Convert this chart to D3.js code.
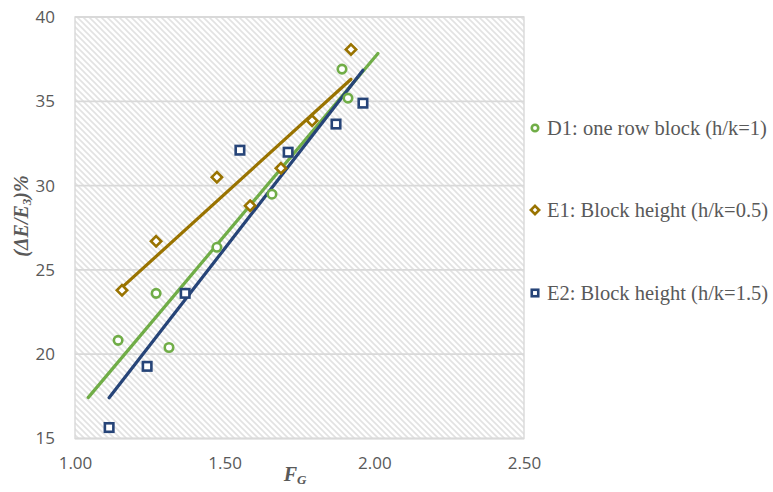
<!DOCTYPE html>
<html>
<head>
<meta charset="utf-8">
<script src="https://cdn.jsdelivr.net/npm/d3@7"></script>
<style>
  html, body { margin: 0; padding: 0; background: #fff; }
  svg { display: block; }
</style>
</head>
<body>
<svg id="chart" width="773" height="492"></svg>
<script>
// F_G versus relative energy change (ΔE/E3)% for three block configurations
const seriesNames = [
  "D1: one row block (h/k=1)",
  "E1: Block height (h/k=0.5)",
  "E2: Block height (h/k=1.5)"
];
const d1X = [1.144, 1.271, 1.314, 1.474, 1.658, 1.892, 1.912];
const d1Y = [20.82, 23.61, 20.40, 26.34, 29.49, 36.91, 35.19];
const e1X = [1.157, 1.271, 1.474, 1.585, 1.688, 1.792, 1.922];
const e1Y = [23.79, 26.70, 30.50, 28.81, 31.03, 33.85, 38.07];
const e2X = [1.114, 1.241, 1.368, 1.551, 1.712, 1.872, 1.962];
const e2Y = [15.65, 19.28, 23.61, 32.10, 31.98, 33.65, 34.89];
// Linear trendline forecast (forward / backward, in F_G units)
const trendForecast = [0.1, 0, 0];

const xTicks = [1.0, 1.5, 2.0, 2.5];
const yTicks = [15, 20, 25, 30, 35, 40];

const colors = ["#70AD47", "#997300", "#264478"];
const shapes = ["circle", "diamond", "square"];

const series = [
  { name: seriesNames[0], xs: d1X, ys: d1Y },
  { name: seriesNames[1], xs: e1X, ys: e1Y },
  { name: seriesNames[2], xs: e2X, ys: e2Y }
];

const plot = { left: 75, right: 524, top: 17, bottom: 438.5 };
const svg = d3.select("#chart");

const x = d3.scaleLinear().domain([1.0, 2.5]).range([plot.left, plot.right]);
const y = d3.scaleLinear().domain([15, 40]).range([plot.bottom, plot.top]);

// hatched plot background
const defs = svg.append("defs");
const pat = defs.append("pattern")
  .attr("id", "hatch")
  .attr("patternUnits", "userSpaceOnUse")
  .attr("width", 6).attr("height", 6);
pat.append("rect").attr("width", 6).attr("height", 6).attr("fill", "#ffffff");
pat.append("path")
  .attr("d", "M-1,-1 L7,7 M-1,5 L1,7 M5,-1 L7,1")
  .attr("stroke", "#e2e2e2").attr("stroke-width", 1.6);

svg.append("rect")
  .attr("x", plot.left).attr("y", plot.top)
  .attr("width", plot.right - plot.left).attr("height", plot.bottom - plot.top)
  .attr("fill", "url(#hatch)");

// horizontal gridlines
svg.append("g").selectAll("line")
  .data(yTicks)
  .join("line")
  .attr("x1", plot.left).attr("x2", plot.right)
  .attr("y1", d => y(d)).attr("y2", d => y(d))
  .attr("stroke", "#d9d9d9").attr("stroke-width", 1.8);

// plot frame
svg.append("rect")
  .attr("x", plot.left).attr("y", plot.top)
  .attr("width", plot.right - plot.left).attr("height", plot.bottom - plot.top)
  .attr("fill", "none").attr("stroke", "#d9d9d9").attr("stroke-width", 1.4);

// axes (labels only)
const tickFont = "'Open Sans', 'Liberation Sans', sans-serif";
const yAxis = svg.append("g")
  .attr("transform", `translate(${plot.left},0)`)
  .call(d3.axisLeft(y).tickValues(yTicks).tickSize(0).tickPadding(20).tickFormat(d3.format("d")));
const xAxis = svg.append("g")
  .attr("transform", `translate(0,${plot.bottom})`)
  .call(d3.axisBottom(x).tickValues(xTicks).tickSize(0).tickPadding(18).tickFormat(d3.format(".2f")));
[yAxis, xAxis].forEach(g => {
  g.select(".domain").remove();
  g.selectAll("text")
    .attr("fill", "#595959")
    .style("font-family", tickFont)
    .style("font-size", "17px");
});

// trendlines (least squares)
function fit(xs, ys) {
  const mx = d3.mean(xs), my = d3.mean(ys);
  let sxy = 0, sxx = 0;
  xs.forEach((v, i) => { sxy += (v - mx) * (ys[i] - my); sxx += (v - mx) * (v - mx); });
  const b = sxy / sxx;
  return v => my + b * (v - mx);
}
series.forEach((s, i) => {
  const f = fit(s.xs, s.ys);
  const x0 = d3.min(s.xs) - trendForecast[i];
  const x1 = d3.max(s.xs) + trendForecast[i];
  svg.append("line")
    .attr("x1", x(x0)).attr("y1", y(f(x0)))
    .attr("x2", x(x1)).attr("y2", y(f(x1)))
    .attr("stroke", colors[i]).attr("stroke-width", 3.2)
    .attr("stroke-linecap", "round");
});

// markers
function drawMarker(g, shape, cx, cy, size, color, sw) {
  if (shape === "circle") {
    g.append("circle").attr("cx", cx).attr("cy", cy).attr("r", size / 2)
      .attr("fill", "#fff").attr("stroke", color).attr("stroke-width", sw);
  } else if (shape === "diamond") {
    const r = size / 2 + 0.9;
    g.append("path")
      .attr("d", `M${cx},${cy - r} L${cx + r},${cy} L${cx},${cy + r} L${cx - r},${cy} Z`)
      .attr("fill", "#fff").attr("stroke", color).attr("stroke-width", sw);
  } else {
    const h = size / 2;
    g.append("rect").attr("x", cx - h).attr("y", cy - h).attr("width", size).attr("height", size)
      .attr("fill", "#fff").attr("stroke", color).attr("stroke-width", sw);
  }
}
const markerLayer = svg.append("g");
series.forEach((s, i) => {
  s.xs.forEach((v, j) => {
    drawMarker(markerLayer, shapes[i], x(v), y(s.ys[j]), 8.5, colors[i], 2.6);
  });
});

// legend
const legend = svg.append("g");
const legendY = [128, 210, 293];
series.forEach((s, i) => {
  drawMarker(legend, shapes[i], 535, legendY[i], 6.5, colors[i], 2.6);
  legend.append("text")
    .attr("x", 547).attr("y", legendY[i])
    .attr("dy", "0.35em")
    .attr("fill", "#595959")
    .style("font-family", "'Liberation Serif', 'Times New Roman', serif")
    .style("font-size", "20.5px")
    .text(s.name);
});

// axis titles
const titleFont = "'Liberation Serif', 'Times New Roman', serif";
const yt = svg.append("text")
  .attr("transform", "translate(28,216) rotate(-90)")
  .attr("text-anchor", "middle")
  .attr("fill", "#595959")
  .style("font-family", titleFont)
  .style("font-size", "20px")
  .style("font-weight", "bold")
  .style("font-style", "italic");
yt.append("tspan").text("(ΔE/E");
yt.append("tspan").attr("baseline-shift", "-25%").style("font-size", "13px").text("3");
yt.append("tspan").text(")%");

const xt = svg.append("text")
  .attr("x", 295).attr("y", 481)
  .attr("text-anchor", "middle")
  .attr("fill", "#595959")
  .style("font-family", titleFont)
  .style("font-size", "20px")
  .style("font-weight", "bold")
  .style("font-style", "italic");
xt.append("tspan").text("F");
xt.append("tspan").attr("baseline-shift", "-25%").style("font-size", "13px").text("G");
</script>
</body>
</html>
